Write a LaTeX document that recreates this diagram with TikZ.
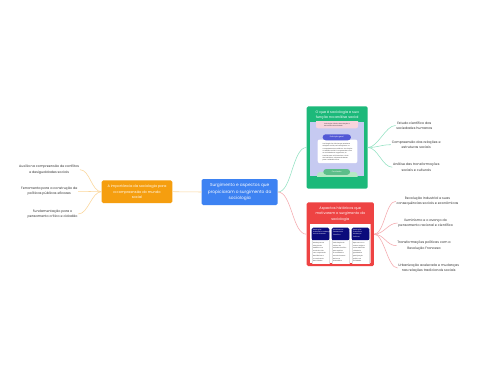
\documentclass[tikz,border=0pt]{standalone}
\usepackage{fontspec}
\setmainfont{Poppins}
\definecolor{cblue}{HTML}{3D82F2}
\definecolor{corange}{HTML}{F59E0F}
\definecolor{cgreen}{HTML}{1CB97A}
\definecolor{cred}{HTML}{EE4343}
\definecolor{lgreen}{HTML}{92E2C2}
\definecolor{lred}{HTML}{F5A9AE}
\definecolor{lorange}{HTML}{FBD69A}
\definecolor{lav}{HTML}{C6CAF1}
\definecolor{pinkbox}{HTML}{F7D4DC}
\definecolor{indigo}{HTML}{5258D6}
\definecolor{pillgreen}{HTML}{5DBE8A}
\definecolor{palegreen}{HTML}{B4E8C4}
\definecolor{navy}{HTML}{0B0B7C}
\definecolor{txt}{HTML}{333333}
\begin{document}
\begin{tikzpicture}[x=1pt,y=-1pt,
  mainbox/.style={rectangle, rounded corners=1.5pt, text=white, align=center, inner sep=1pt},
  leaf/.style={font=\fontsize{3.3}{5.3}\selectfont, text=txt, align=center, inner sep=0.6pt},
  conn/.style={line width=0.55pt},
  tiny/.style={font=\fontsize{1.5}{2.3}\selectfont, align=left, inner sep=0pt, text=txt},
  colhead/.style={font=\fontsize{1.6}{2.2}\selectfont, text=white, align=left, inner sep=0pt}
]
\useasboundingbox[fill=white] (0,0) rectangle (480,384);

% ---------- main boxes ----------
\node[mainbox, fill=cblue, minimum width=76pt, minimum height=26pt,
  font=\fontsize{4.3}{6.2}\selectfont] (c) at (239.7,192)
  {Surgimento e aspectos que\\propiciaram o surgimento da\\sociologia};

\node[mainbox, fill=corange, minimum width=70.6pt, minimum height=22.7pt,
  font=\fontsize{3.5}{5.6}\selectfont] (o) at (137,191.7)
  {A importância da sociologia para\\a compreensão do mundo\\social};

\node[mainbox, fill=cgreen, minimum width=61pt, minimum height=82.4pt] (g) at (337.2,147.5) {};
\node[mainbox, fill=cred, minimum width=67.3pt, minimum height=63.7pt] (r) at (340.3,234.2) {};

% ---------- green box content ----------
\node[font=\fontsize{3.5}{5.4}\selectfont, text=white, align=center, inner sep=0pt] (gt) at (337.2,114.8)
  {O que é sociologia e sua\\função na análise social};
\begin{scope}
  \clip (310,121.7) rectangle (364.3,176);
  \fill[lav] (310,121.7) rectangle (364.3,176);
  \fill[pinkbox, rounded corners=2pt] (316,114) rectangle (358,128.3);
  \node[tiny] (gp) at (337,124.8) {Sociologia: ciência das relações e\\estruturas da sociedade};
  \fill[palegreen, rounded corners=3pt] (317,172) rectangle (357.7,182);
  \fill[white, draw=indigo!40, line width=0.3pt, rounded corners=2pt] (317.3,139.3) rectangle (357.7,163.3);
  \node[tiny] (gc) at (337.5,152.2) {Sociologia é a ciência que estuda as\\relações sociais, as instituições e os\\comportamentos coletivos. Sua função\\na análise social é compreender como\\as sociedades se organizam, se\\transformam e influenciam a vida\\dos indivíduos, oferecendo bases\\para a reflexão crítica.};
  \node[fill=indigo, rounded corners=3pt, minimum width=28.3pt, minimum height=6pt, inner sep=0pt,
    font=\fontsize{1.8}{2}\selectfont, text=white] (gb) at (336.8,137.3) {Definição geral};
  \node[fill=pillgreen, rounded corners=2.8pt, minimum width=26.7pt, minimum height=5.7pt, inner sep=0pt,
    font=\fontsize{1.8}{2}\selectfont, text=white] (gg) at (336.7,171.9) {Conclusão};
\end{scope}

% ---------- red box content ----------
\node[font=\fontsize{3.5}{5.3}\selectfont, text=white, align=center, inner sep=0pt] (rt) at (340.3,214)
  {Aspectos históricos que\\motivaram o surgimento da\\sociologia};
\begin{scope}
  \clip (310,224.3) rectangle (370.7,263.3);
  \fill[white] (310,224.3) rectangle (370.7,263.3);
  \foreach \x/\h/\b [count=\i] in {
    311.7/{Revolução\\Industrial e mudanças\\sociais intensas}/{Mudanças nas\\relações de\\trabalho e no\\modo de vida\\com a expansão\\das fábricas e\\o crescimento\\das cidades.},
    331.7/{Iluminismo e\\Pensamento\\Científico}/{Valorização da\\razão e do\\método científico\\para explicar\\a sociedade e\\seus fenômenos\\de forma\\sistemática.},
    351.7/{Revolução\\Francesa e\\Mudanças\\Políticas}/{Ruptura com a\\ordem antiga e\\novas ideias de\\cidadania,\\igualdade e\\participação\\política na\\sociedade.}} {
    \draw[black!12, line width=0.3pt, fill=white] (\x,232) rectangle ++(17.6,40);
    \fill[navy, rounded corners=1.5pt] (\x,227.7) rectangle ++(17.6,12.3);
    \fill[navy] (\x,234) rectangle ++(17.6,6);
    \node[colhead, anchor=north west] (ch\i) at (\x+1.2,229.2) {\h};
    \node[tiny, anchor=north west, font=\fontsize{1.5}{2.6}\selectfont] (cb\i) at (\x+1.2,242.2) {\b};
  }
\end{scope}

% ---------- leaves ----------
\node[leaf] (l1) at (49.2,169.7) {Auxilia na compreensão de conflitos\\e desigualdades sociais};
\node[leaf] (l2) at (49.3,191.3) {Ferramenta para a construção de\\políticas públicas eficazes};
\node[leaf] (l3) at (52.5,214) {Fundamentação para o\\pensamento crítico e cidadão};

\node[leaf] (g1) at (414.3,125.5) {Estudo científico das\\sociedades humanas};
\node[leaf] (g2) at (416.2,144.7) {Compreensão das relações e\\estruturas sociais};
\node[leaf] (g3) at (416.3,167.2) {Análise das transformações\\sociais e culturais};

\node[leaf] (r1) at (427.5,201.3) {Revolução Industrial e suas\\consequências sociais e econômicas};
\node[leaf] (r2) at (425.7,223) {Iluminismo e o avanço do\\pensamento racional e científico};
\node[leaf] (r3) at (424,245.7) {Transformações políticas com a\\Revolução Francesa};
\node[leaf] (r4) at (428.7,268) {Urbanização acelerada e mudanças\\nas relações tradicionais sociais};

% ---------- connectors ----------
\draw[conn, lorange] (c.west) -- (o.east);
\draw[conn, lgreen] (c.east) .. controls +(14,0) and +(-14,0) .. (g.west);
\draw[conn, lred] (c.east) .. controls +(14,0) and +(-14,0) .. (r.west);

\foreach \n in {l1,l2,l3}
  \draw[conn, lorange] (o.west) .. controls +(-10,0) and +(10,0) .. (\n.east);
\foreach \n in {g1,g2,g3}
  \draw[conn, lgreen] (g.east) .. controls +(10,0) and +(-10,0) .. (\n.west);
\foreach \n in {r1,r2,r3,r4}
  \draw[conn, lred] (r.east) .. controls +(10,0) and +(-10,0) .. (\n.west);
\end{tikzpicture}
\end{document}
